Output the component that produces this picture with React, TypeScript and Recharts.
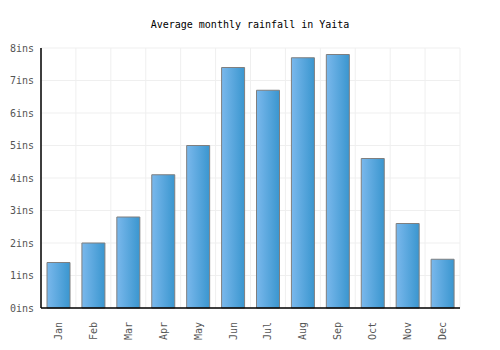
import React from "react";
import { BarChart, Bar, XAxis, YAxis, CartesianGrid } from "recharts";

const months = ["Jan", "Feb", "Mar", "Apr", "May", "Jun", "Jul", "Aug", "Sep", "Oct", "Nov", "Dec"];
const rainfall = [1.4, 2.0, 2.8, 4.1, 5.0, 7.4, 6.7, 7.7, 7.8, 4.6, 2.6, 1.5];
const yTicks = [0, 1, 2, 3, 4, 5, 6, 7, 8];

const FONT = "'DejaVu Sans Mono', monospace";

function MonthTick(props: any) {
  const { x, y, payload } = props;
  return (
    <text
      x={x}
      y={y + 6}
      transform={`rotate(-90, ${x}, ${y + 6})`}
      textAnchor="end"
      dy="0.35em"
      fontFamily={FONT}
      fontSize={10}
      fill="#555"
    >
      {payload.value}
    </text>
  );
}

export default function App() {
  const data = months.map((m, i) => ({ month: m, rain: rainfall[i] }));
  return (
    <div style={{ position: "absolute", left: 0, top: 0, width: 500, height: 350, background: "#fff" }}>
      <BarChart width={500} height={350} data={data} margin={{ top: 48, right: 40, bottom: 0, left: 0 }}>
        <defs>
          <linearGradient id="barFill" x1="0" y1="0" x2="1" y2="0">
            <stop offset="0%" stopColor="#7ab8ec" />
            <stop offset="100%" stopColor="#3a96cf" />
          </linearGradient>
        </defs>
        <text x={250} y={28} textAnchor="middle" fontFamily={FONT} fontSize={10} fill="#000">
          Average monthly rainfall in Yaita
        </text>
        <CartesianGrid
          stroke="#efefef"
          verticalCoordinatesGenerator={({ offset }: any) =>
            Array.from({ length: months.length + 1 }, (_, i) => offset.left + (i * offset.width) / months.length)
          }
        />
        <XAxis
          dataKey="month"
          tick={<MonthTick />}
          tickLine={false}
          axisLine={{ stroke: "#000", strokeWidth: 1.5 }}
          interval={0}
          height={42}
        />
        <YAxis
          domain={[0, 8]}
          ticks={yTicks}
          tickFormatter={(v: number) => `${v}ins`}
          tickLine={false}
          tickSize={5}
          tickMargin={2}
          axisLine={{ stroke: "#000", strokeWidth: 1.5 }}
          width={41}
          tick={{ fontFamily: FONT, fontSize: 10, fill: "#555" }}
          interval={0}
        />
        <Bar dataKey="rain" fill="url(#barFill)" stroke="#7f7f7f" strokeWidth={1} barSize={23} isAnimationActive={false} />
      </BarChart>
    </div>
  );
}
